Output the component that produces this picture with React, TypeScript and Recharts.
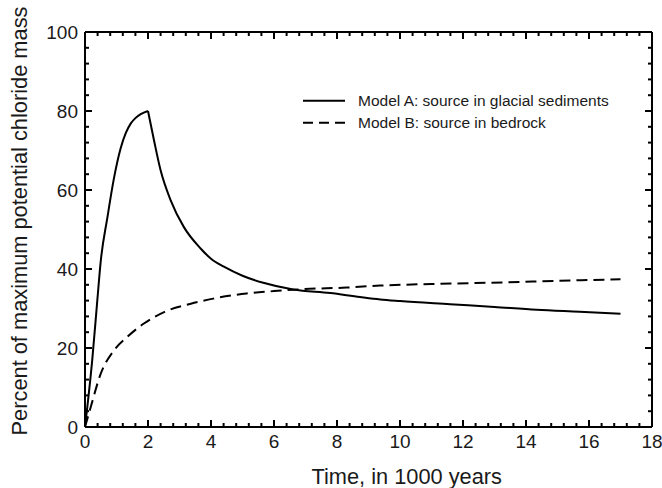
import React from 'react';
import { LineChart, Line, XAxis, YAxis } from 'recharts';

// Model A: source in glacial sediments (rise to the peak, then the decline)
const timeARise = [0, 0.23, 0.39, 0.5, 0.71, 0.92, 1.13, 1.3, 1.45, 1.6, 1.77, 2.0];
const massARise = [0, 17, 32, 42, 53, 63, 70.5, 74.5, 76.8, 78.2, 79.2, 80];
const timeAFall = [2.0, 2.19, 2.4, 2.72, 3.14, 3.67, 4.0, 4.41, 5.0, 5.66, 6.61, 7.78, 8.73, 9.37, 10.0, 11.59, 13.0, 14.34, 15.7, 17.0];
const massAFall = [80, 72.6, 65, 57.4, 50.6, 45.2, 42.6, 40.6, 38.3, 36.5, 34.8, 33.9, 32.9, 32.3, 31.9, 31.1, 30.4, 29.7, 29.2, 28.7];

// Model B: source in bedrock
const timeB = [0, 0.18, 0.5, 0.92, 1.34, 1.87, 2.51, 3.36, 4.07, 5.13, 6.0, 6.93, 8.3, 9.37, 11.0, 13.28, 15.0, 17.0];
const massB = [0, 5, 13.5, 19.4, 22.8, 26.2, 29.1, 31.2, 32.5, 33.8, 34.4, 34.9, 35.3, 35.8, 36.2, 36.6, 37.0, 37.4];

const xTickLabels = [0, 2, 4, 6, 8, 10, 12, 14, 16, 18];
const yTickLabels = [0, 20, 40, 60, 80, 100];
const xMinorStep = 0.4;
const yMinorStep = 4;
const X_MAX = 18;
const Y_MAX = 100;

const toPoints = (ts: number[], vs: number[]) => ts.map((t, i) => ({ t, v: vs[i] }));
const seriesARise = toPoints(timeARise, massARise);
const seriesAFall = toPoints(timeAFall, massAFall);
const seriesB = toPoints(timeB, massB);

const steps = (max: number, step: number) => {
  const out: number[] = [];
  for (let i = 0; i * step <= max + 1e-9; i++) out.push(Math.round(i * step * 100) / 100);
  return out;
};
const isMajor = (v: number, labels: number[]) => labels.some((l) => Math.abs(l - v) < 1e-6);
const xTicks = steps(X_MAX, xMinorStep);
const yTicks = steps(Y_MAX, yMinorStep);

const FONT = '"Liberation Sans", Arial, Helvetica, sans-serif';
const TEXT = '#1a1a1a';
const MAJOR = 7;
const MINOR = 4;

const W = 662;
const H = 488;
const MARGIN = { top: 31, right: 9, bottom: 0, left: 0 };
const X_AXIS_H = 61;
const Y_AXIS_W = 85;
const TOP_AXIS_H = 1;
const RIGHT_AXIS_W = 1;

// plot frame as laid out by the chart from the margins and axis sizes above
const plotLeft = MARGIN.left + Y_AXIS_W;
const plotRight = W - MARGIN.right - RIGHT_AXIS_W;
const plotTop = MARGIN.top + TOP_AXIS_H;
const plotBottom = H - MARGIN.bottom - X_AXIS_H;
const sx = (t: number) => plotLeft + (t / X_MAX) * (plotRight - plotLeft);
const sy = (v: number) => plotBottom - (v / Y_MAX) * (plotBottom - plotTop);

const bottomLabel = (p: any) => {
  const { x, y, payload } = p;
  if (!isMajor(payload.value, xTickLabels)) return <g />;
  return (
    <text x={x} y={Number(y) + 21} textAnchor="middle" fontSize={19} fontFamily={FONT} fill={TEXT}>
      {payload.value}
    </text>
  );
};

const leftLabel = (p: any) => {
  const { x, y, payload } = p;
  if (!isMajor(payload.value, yTickLabels)) return <g />;
  return (
    <text x={Number(x) - 7} y={Number(y) + 6.5} textAnchor="end" fontSize={19} fontFamily={FONT} fill={TEXT}>
      {payload.value}
    </text>
  );
};

const axisLine = { stroke: '#000', strokeWidth: 2 };
const lineProps = {
  dataKey: 'v',
  stroke: '#000',
  strokeWidth: 2,
  dot: false,
  activeDot: false,
  isAnimationActive: false,
};

// inward tick marks on all four sides
const TickMarks = () => (
  <g stroke="#000" strokeWidth={2}>
    {xTicks.map((t) => {
      const len = isMajor(t, xTickLabels) ? MAJOR : MINOR;
      const x = sx(t);
      return (
        <g key={`x${t}`}>
          <line x1={x} x2={x} y1={plotBottom} y2={plotBottom - len} />
          <line x1={x} x2={x} y1={plotTop} y2={plotTop + len} />
        </g>
      );
    })}
    {yTicks.map((v) => {
      const len = isMajor(v, yTickLabels) ? MAJOR : MINOR;
      const y = sy(v);
      return (
        <g key={`y${v}`}>
          <line x1={plotLeft} x2={plotLeft + len} y1={y} y2={y} />
          <line x1={plotRight} x2={plotRight - len} y1={y} y2={y} />
        </g>
      );
    })}
  </g>
);

export default function App() {
  return (
    <div style={{ position: 'absolute', left: 0, top: 0, width: W, height: H }}>
      <LineChart width={W} height={H} margin={MARGIN}>
        <XAxis
          dataKey="t"
          type="number"
          domain={[0, X_MAX]}
          ticks={xTicks}
          interval={0}
          tickSize={0}
          tickMargin={0}
          tickLine={false}
          tick={bottomLabel}
          height={X_AXIS_H}
          axisLine={axisLine}
        />
        <XAxis
          xAxisId="top"
          dataKey="t"
          orientation="top"
          type="number"
          domain={[0, X_MAX]}
          tick={false}
          tickLine={false}
          height={TOP_AXIS_H}
          axisLine={axisLine}
        />
        <YAxis
          type="number"
          domain={[0, Y_MAX]}
          ticks={yTicks}
          interval={0}
          tickSize={0}
          tickMargin={0}
          tickLine={false}
          tick={leftLabel}
          width={Y_AXIS_W}
          axisLine={axisLine}
        />
        <YAxis
          yAxisId="right"
          orientation="right"
          type="number"
          domain={[0, Y_MAX]}
          tick={false}
          tickLine={false}
          width={RIGHT_AXIS_W}
          axisLine={axisLine}
        />
        <Line {...lineProps} data={seriesARise} xAxisId="top" yAxisId="right" type="monotone" />
        <Line {...lineProps} data={seriesAFall} xAxisId="top" yAxisId="right" type="monotone" />
        <Line {...lineProps} data={seriesB} type="monotone" strokeDasharray="11 6" />
      </LineChart>
      <svg
        width={W}
        height={H}
        style={{ position: 'absolute', left: 0, top: 0, pointerEvents: 'none' }}
        fontFamily={FONT}
      >
        <TickMarks />
        <text x={406.7} y={484} textAnchor="middle" fontSize={21.8} fill={TEXT}>
          Time, in 1000 years
        </text>
        <text
          x={0}
          y={0}
          transform="translate(19 221) rotate(-90)"
          textAnchor="middle"
          dominantBaseline="central"
          fontSize={21.8}
          fill={TEXT}
        >
          Percent of maximum potential chloride mass
        </text>
        <line x1={303} x2={345} y1={100.7} y2={100.7} stroke="#000" strokeWidth={2} />
        <text x={358} y={106} fontSize={15.5} fill={TEXT}>
          Model A: source in glacial sediments
        </text>
        <line x1={303} x2={345} y1={122.7} y2={122.7} stroke="#000" strokeWidth={2} strokeDasharray="10 6" />
        <text x={358} y={128} fontSize={15.5} fill={TEXT}>
          Model B: source in bedrock
        </text>
      </svg>
    </div>
  );
}
